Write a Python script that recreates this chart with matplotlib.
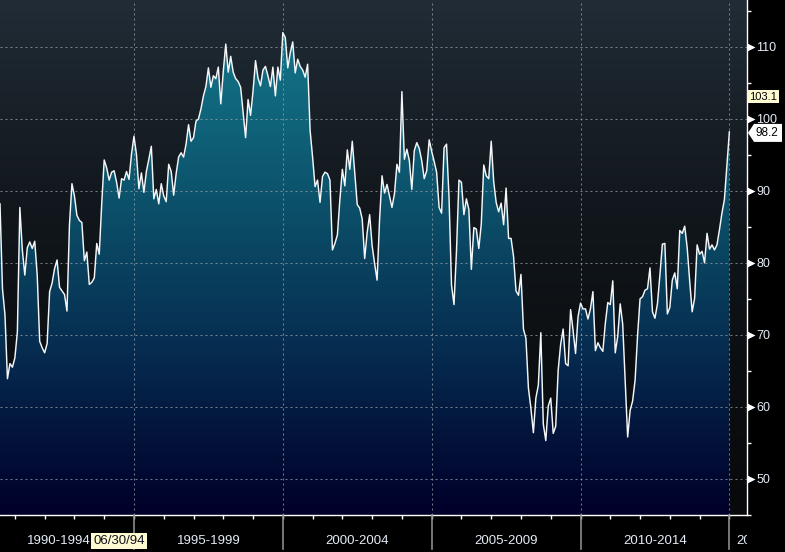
import numpy as np
import pandas as pd
import matplotlib
matplotlib.use("Agg")
import matplotlib.pyplot as plt
from matplotlib.colors import LinearSegmentedColormap
from matplotlib.patches import Polygon
from matplotlib.ticker import MultipleLocator, FixedLocator
import matplotlib.transforms as mtransforms

# Indice mensual (jul-1990 .. ene-2015)
sentiment = [
    88.2, 76.4, 72.8, 63.9, 66.0, 65.5,
    66.8, 70.4, 87.7, 81.8, 78.3, 82.1, 82.9, 82.0, 83.0, 78.3, 69.1, 68.2,
    67.5, 68.8, 76.0, 77.2, 79.2, 80.4, 76.6, 76.1, 75.6, 73.3, 85.3, 91.0,
    89.3, 86.6, 85.9, 85.6, 80.3, 81.5, 77.0, 77.3, 77.9, 82.7, 81.2, 88.2,
    94.3, 93.2, 91.5, 92.6, 92.8, 91.2, 89.0, 91.7, 91.5, 92.7, 91.6, 95.1,
    97.6, 95.1, 90.3, 92.5, 89.8, 92.7, 94.4, 96.2, 88.9, 90.2, 88.2, 91.0,
    89.3, 88.5, 93.7, 92.7, 89.4, 92.4, 94.7, 95.3, 94.7, 96.5, 99.2, 96.9,
    97.4, 99.7, 100.0, 101.4, 103.2, 104.5, 107.1, 104.4, 106.0, 105.6, 107.2, 102.1,
    106.6, 110.4, 106.5, 108.7, 106.5, 105.6, 105.2, 104.4, 100.9, 97.4, 102.7, 100.5,
    103.9, 108.1, 105.7, 104.6, 106.8, 107.3, 106.0, 104.5, 107.2, 103.2, 107.2, 105.4,
    112.0, 111.3, 107.1, 109.2, 110.7, 106.4, 108.3, 107.3, 106.8, 105.8, 107.6, 98.4,
    94.7, 90.6, 91.5, 88.4, 92.0, 92.6, 92.4, 91.5, 81.8, 82.7, 83.9, 88.8,
    93.0, 90.7, 95.7, 93.0, 96.9, 92.4, 88.1, 87.6, 86.1, 80.6, 84.2, 86.7,
    82.4, 79.9, 77.6, 86.0, 92.1, 89.7, 90.9, 89.3, 87.7, 89.6, 93.7, 92.6,
    103.8, 94.4, 95.8, 94.2, 90.2, 95.6, 96.7, 95.9, 94.2, 91.7, 92.8, 97.1,
    95.5, 94.1, 92.6, 87.7, 86.9, 96.0, 96.5, 89.1, 76.9, 74.2, 81.6, 91.5,
    91.2, 86.7, 88.9, 87.4, 79.1, 84.9, 84.7, 82.0, 85.4, 93.6, 92.1, 91.7,
    96.9, 91.3, 88.4, 87.1, 88.3, 85.3, 90.4, 83.4, 83.4, 80.9, 76.1, 75.5,
    78.4, 70.8, 69.5, 62.6, 59.8, 56.4, 61.2, 63.0, 70.3, 57.6, 55.3, 60.1,
    61.2, 56.3, 57.3, 65.1, 68.7, 70.8, 66.0, 65.7, 73.5, 70.6, 67.4, 72.5,
    74.4, 73.6, 73.6, 72.2, 73.6, 76.0, 67.8, 68.9, 68.2, 67.7, 71.6, 74.5,
    74.2, 77.5, 67.5, 69.8, 74.3, 71.5, 63.7, 55.8, 59.5, 60.8, 63.7, 69.9,
    75.0, 75.3, 76.2, 76.4, 79.3, 73.2, 72.3, 74.3, 78.3, 82.6, 82.7, 72.9,
    73.8, 77.6, 78.6, 76.4, 84.5, 84.1, 85.1, 82.1, 77.5, 73.2, 75.1, 82.5,
    81.2, 81.6, 80.0, 84.1, 81.9, 82.5, 81.8, 82.5, 84.6, 86.9, 88.8, 93.6,
    98.2,
]
start_month = "1990-07-01"

period_bounds = [1995, 2000, 2005, 2010, 2015]
period_labels = ["1990-1994", "1995-1999", "2000-2004", "2005-2009", "2010-2014", "2015-2019"]
period_centers = [1992.47, 1997.5, 2002.5, 2007.5, 2012.5]
y_major = [50, 60, 70, 80, 90, 100, 110]
ref_value = 103.1
last_label = "98.2"
cursor_date = 1994.5
cursor_label = "06/30/94"

plt.rcParams['font.family'] = ['Liberation Sans', 'DejaVu Sans']
TXT = "#e4ecf7"
W, H = 785, 552
AX_W, AX_H, AX_B = 747, 515, 37

fig = plt.figure(figsize=(W / 100, H / 100), dpi=100, facecolor="black")
ax = fig.add_axes([0, AX_B / H, AX_W / W, AX_H / H])
ax.set_facecolor("black")

months = pd.date_range(start_month, periods=len(sentiment), freq="MS")
x = months.year + (months.month - 1) / 12.0
y = np.array(sentiment)

x0, x1 = 1990.5, 1990.5 + AX_W / 29.77
y0, y1 = 44.96, 116.53
ax.set_xlim(x0, x1)
ax.set_ylim(y0, y1)

# fondo degradado
bg_cmap = LinearSegmentedColormap.from_list(
    "bg", [(0, "#08090b"), (0.3, "#0c0f12"), (0.6, "#11171c"), (1, "#212c36")])
grad = np.linspace(0, 1, 256).reshape(-1, 1)
ax.imshow(grad, cmap=bg_cmap, origin="lower", extent=[x0, x1, y0, y1],
          aspect="auto", zorder=0)

# area rellena con degradado
fill_cmap = LinearSegmentedColormap.from_list(
    "fill", [(0, "#00002a"), (0.15, "#03133a"), (0.32, "#062c50"),
             (0.52, "#0a4662"), (0.75, "#0f6278"), (1, "#157a8e")])
img = ax.imshow(grad, cmap=fill_cmap, origin="lower", extent=[x0, x1, y0, y1],
                aspect="auto", zorder=1)
coll = ax.fill_between(x, y, y0, facecolor="none", edgecolor="none")
img.set_clip_path(coll.get_paths()[0], ax.transData)
coll.remove()

# rejilla punteada
grid_kw = dict(color="#9aa3ab", lw=0.75, alpha=0.75, linestyle=(0, (1.9, 2.9)), zorder=2)
for v in y_major:
    ax.axhline(v, **grid_kw)
for b in period_bounds:
    ax.axvline(b, **grid_kw)

ax.plot(x, y, color="#f4f6f8", lw=1.05, zorder=3)

# ejes
for s in ["top", "left"]:
    ax.spines[s].set_visible(False)
for s in ["bottom", "right"]:
    ax.spines[s].set_color("white")
    ax.spines[s].set_linewidth(1.0)

ax.yaxis.tick_right()
ax.yaxis.set_major_locator(FixedLocator(y_major))
ax.yaxis.set_minor_locator(MultipleLocator(5))
ax.tick_params(axis="y", which="major", length=0, pad=6.5, labelsize=9, labelcolor=TXT)
ax.tick_params(axis="y", which="minor", length=3, width=1, color="white", direction="out")
ax.set_yticklabels([str(v) for v in y_major])

ax.xaxis.set_major_locator(MultipleLocator(1))
ax.tick_params(axis="x", which="major", length=3, width=1, color="white",
               labelbottom=False, direction="out")

# triangulos en las marcas principales
blend_y = mtransforms.blended_transform_factory(ax.transAxes, ax.transData)
ax.plot([1 + 4 / AX_W] * len(y_major), y_major, linestyle="none", marker=">",
        ms=5.5, color="white", mec="none", transform=blend_y, clip_on=False, zorder=5)

# separadores y etiquetas de periodos
blend_x = mtransforms.blended_transform_factory(ax.transData, ax.transAxes)
for b in period_bounds:
    ax.plot([b, b], [0, -34 / AX_H], color="#8c8c8c", lw=1.2,
            transform=blend_x, clip_on=False, zorder=4)
lab_y = -26 / AX_H
for lab, c in zip(period_labels[:-1], period_centers):
    ax.text(c, lab_y, lab, transform=blend_x, ha="center", va="center",
            fontsize=9.5, color=TXT)
t_last = ax.text(period_bounds[-1] + 7 / 29.77, lab_y, period_labels[-1],
                 transform=blend_x, ha="left", va="center", fontsize=9.5, color=TXT)
t_last.set_clip_box(mtransforms.TransformedBbox(
    mtransforms.Bbox([[0, 0], [AX_W / W, 1]]), fig.transFigure))
t_last.set_clip_on(True)

ax.text(cursor_date, lab_y, cursor_label, transform=blend_x, ha="center", va="center",
        fontsize=9.5, color="#101020", zorder=6,
        bbox=dict(boxstyle="square,pad=0.15", fc="#fffbd0", ec="none"))

# etiquetas a la derecha
ax.text(1 + 2 / AX_W, ref_value, f"{ref_value:.1f}", transform=blend_y, ha="left",
        va="center", fontsize=8, color="black", zorder=6, clip_on=False,
        bbox=dict(boxstyle="square,pad=0.15", fc="#fffbd0", ec="none"))

fig.canvas.draw()
_, py = ax.transData.transform((x1, y[-1]))
py -= 1
px = ax.transAxes.transform((1, 0))[0] + 1
arrow = Polygon([[px, py], [px + 6, py + 9], [px + 34, py + 9],
                 [px + 34, py - 9], [px + 6, py - 9]],
                closed=True, fc="white", ec="none", transform=None, zorder=7)
fig.patches.append(arrow)
fig.text((px + 8) / W, py / H, last_label, ha="left", va="center",
         fontsize=8.5, color="black", zorder=8)

fig.savefig("out.png", dpi=100, facecolor="black")
